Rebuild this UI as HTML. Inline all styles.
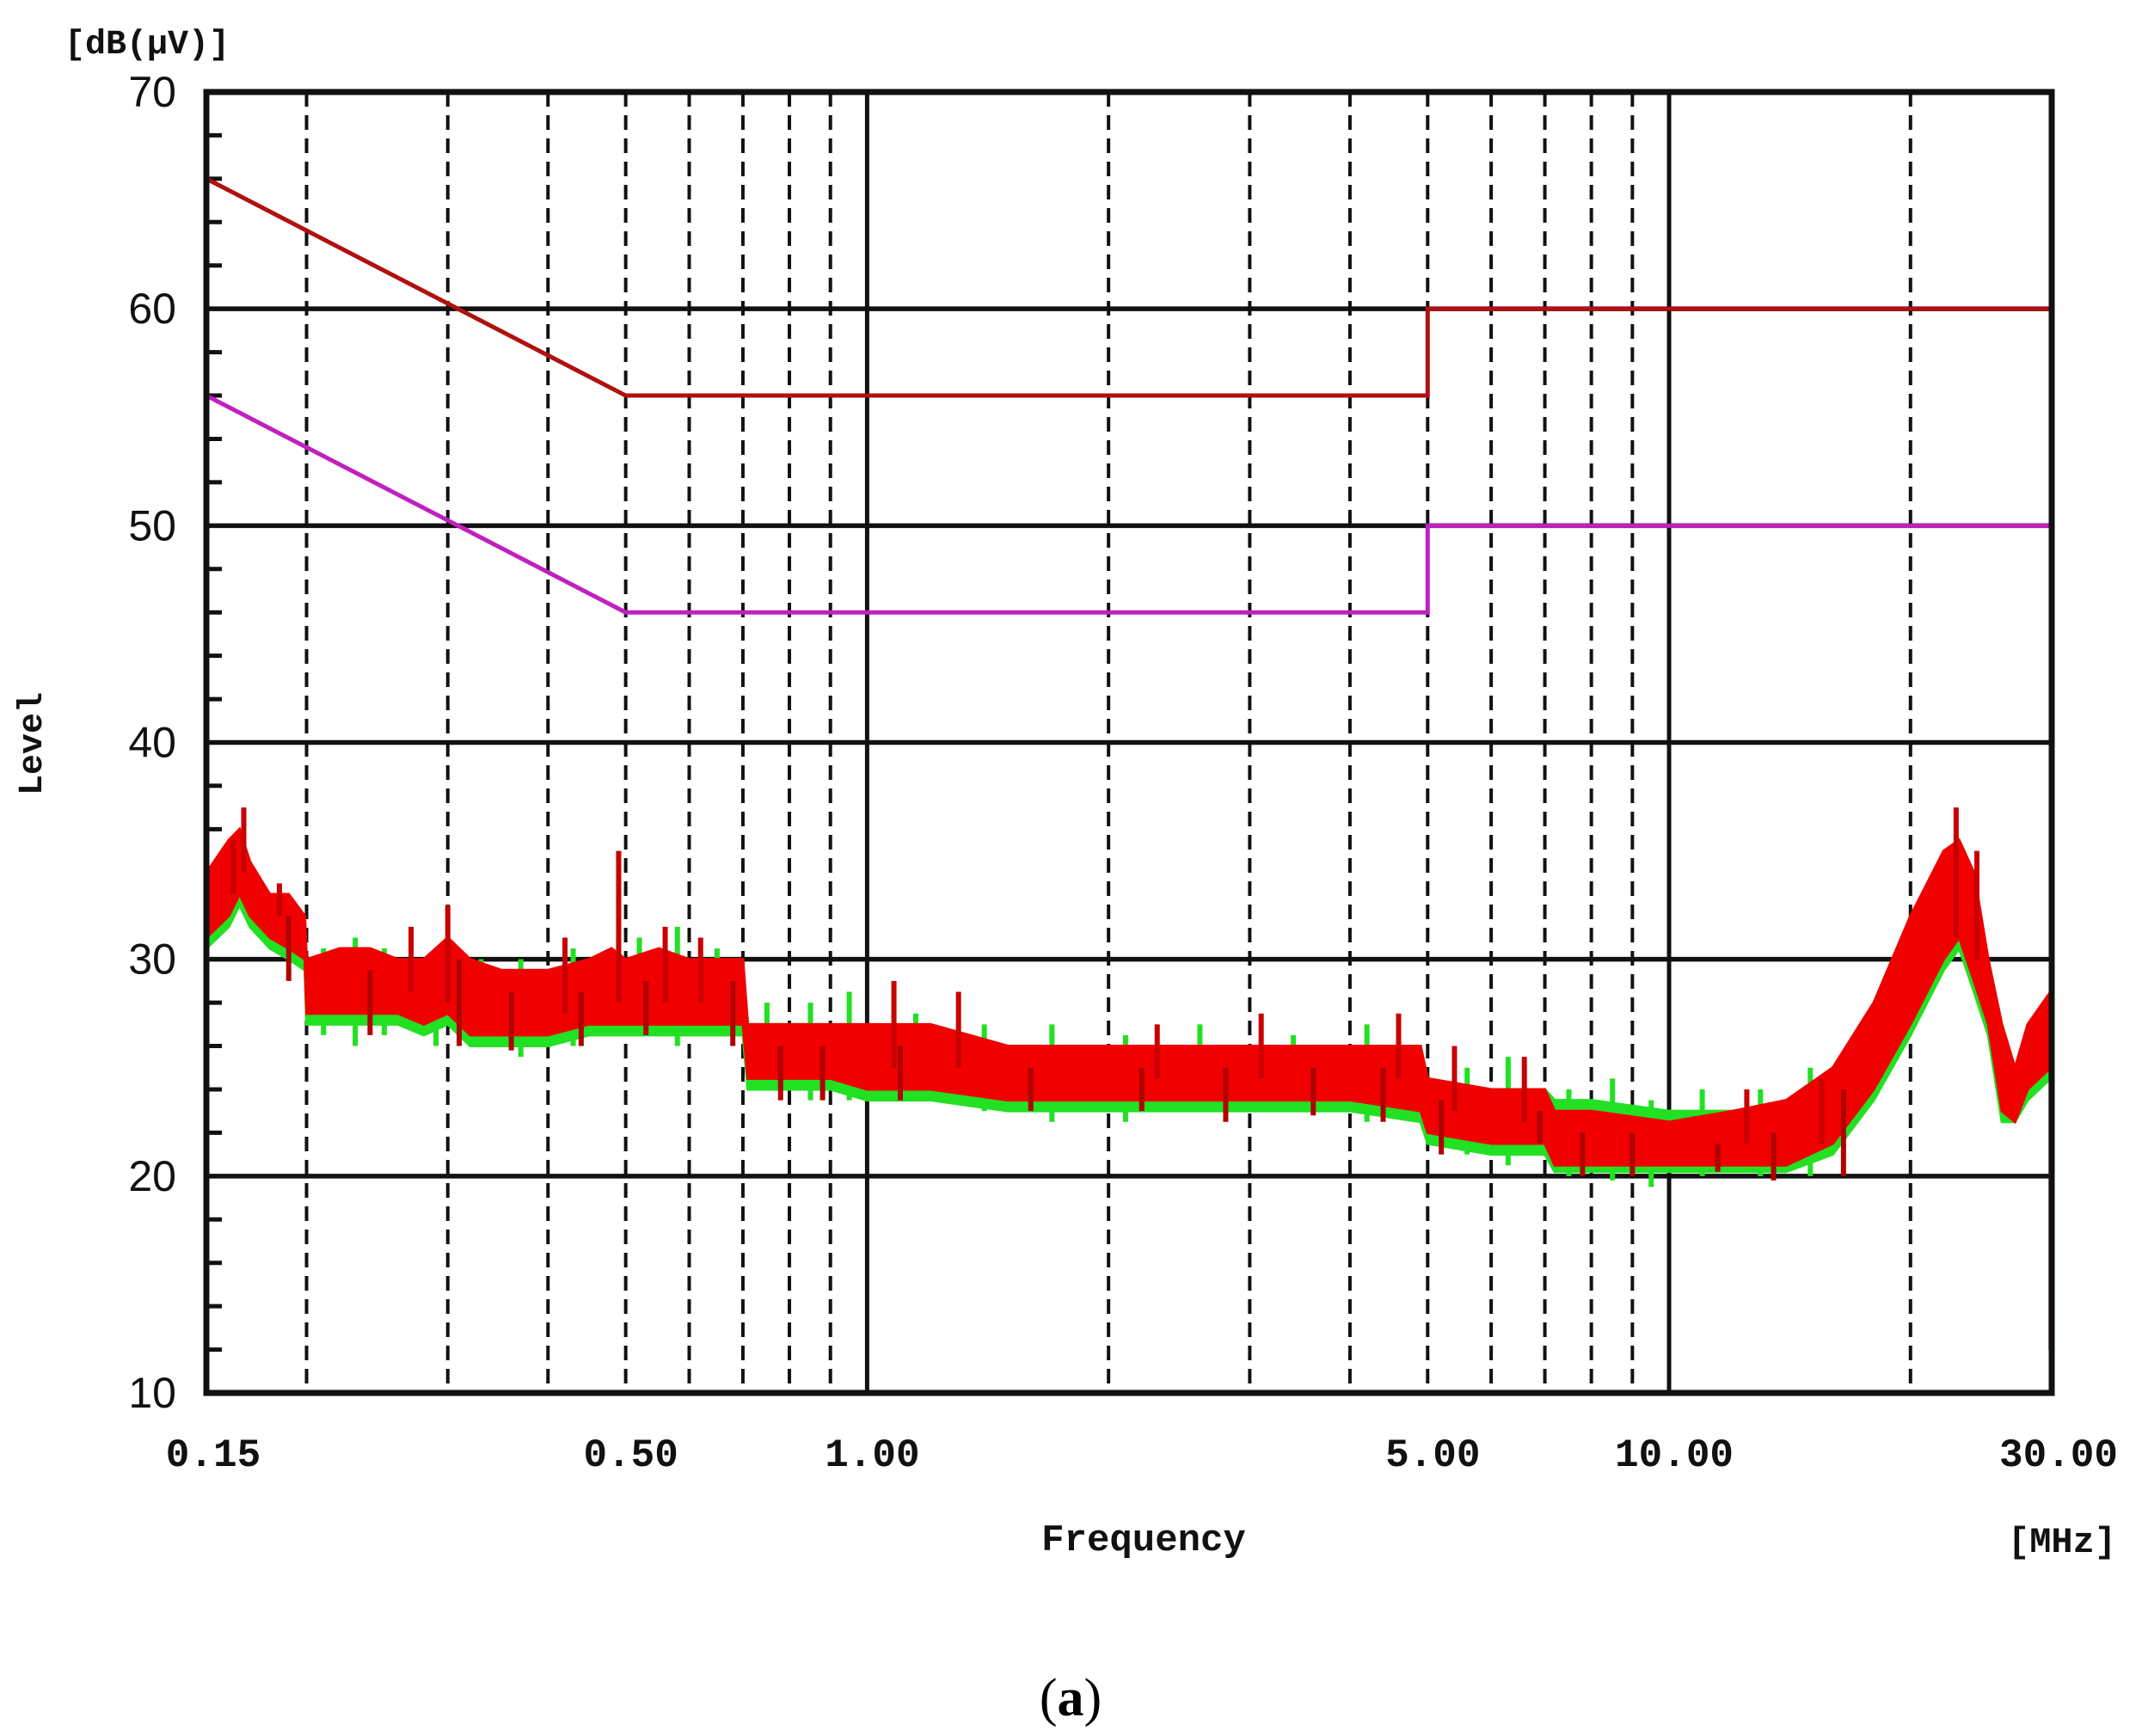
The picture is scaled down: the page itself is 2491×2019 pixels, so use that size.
<!DOCTYPE html>
<html><head><meta charset="utf-8"><style>
html,body{margin:0;padding:0;background:#fff;}
svg{display:block;}
.m{font-family:"Liberation Mono",monospace;font-weight:bold;fill:#111;}
.s{font-family:"Liberation Sans",sans-serif;fill:#111;}
</style></head><body>
<svg id="chart" width="2491" height="2019" viewBox="0 0 2491 2019" xmlns="http://www.w3.org/2000/svg">
<g id="grid"></g>
<g id="series"></g>
<g id="axes"></g>
<text class="m" x="75" y="62" font-size="40">[dB(μV)]</text>
<text class="m" x="48" y="865" font-size="40" transform="rotate(-90 48 865)" text-anchor="middle">Level</text>
<text class="m" x="1330" y="1803" font-size="44" text-anchor="middle">Frequency</text>
<text class="m" x="2398" y="1805" font-size="42" text-anchor="middle">[MHz]</text>
<text x="1245" y="1995" font-size="62" text-anchor="middle" font-family="Liberation Serif,serif" fill="#000">(<tspan font-weight="bold">a</tspan>)</text>
</svg>
<script>
const yTicks=[10,20,30,40,50,60,70];
const xTickVals=[0.15,0.5,1,5,10,30];
const xTickLabels=["0.15","0.50","1.00","5.00","10.00","30.00"];
const dashedX=[0.2,0.3,0.4,0.5,0.6,0.7,0.8,0.9,2,3,4,5,6,7,8,9,20];
const solidX=[1,10];
const qpFreq=[0.15,0.5,0.5,5,5,30];
const qpVal=[66,56,56,56,60,60];
const avFreq=[0.15,0.5,0.5,5,5,30];
const avVal=[56,46,46,46,50,50];
const bandFreq=[0.15,0.16,0.165,0.17,0.18,0.19,0.199,0.2,0.22,0.24,0.26,0.28,0.3,0.32,0.35,0.4,0.45,0.48,0.5,0.55,0.6,0.7,0.71,0.8,0.9,1.0,1.2,1.5,2,3,4,4.9,5.0,6,7,7.2,8,10,12,14,16,18,20,22,23,24,25,26,27,28,29.9];
const redHi=[34,35.5,36,34.5,33,33,32,30,30.5,30.5,30,30,31,30,29.5,29.5,30,30.5,30,30.5,30,30,27,27,27,27,27,26,26,26,26,26,24.5,24,24,23,23,22.5,23,23.5,25,28,32,35,35.5,34,30,27,25,27,28.5];
const redLo=[31,32,33,32,31,30.5,30,27.5,27.5,27.5,27.5,27,27.5,26.5,26.5,26.5,27,27,27,27,27,27,24.5,24.5,24.5,24,24,23.5,23.5,23.5,23.5,23,22,21.5,21.5,20.5,20.5,20.5,20.5,20.5,21.5,24,27,30,31,29,27,23,22.5,24,25];
const greenHi=[33.5,34,34.5,33.5,32.5,32,31.5,29.5,30,30,29.5,29.5,30,29.5,29,29,29.5,30,29.5,30,29.5,29.5,27,27,27,26.5,26.5,26,26,26,26,25.5,24.5,24,24,23.5,23.5,23,23,23.5,25,28,32,34,35,33,30,27,25,26.5,28];
const greenLo=[30.5,31.5,32.5,31.5,30.5,30,29.5,27,27,27,27,26.5,27,26,26,26,26.5,26.5,26.5,26.5,26.5,26.5,24,24,24,23.5,23.5,23,23,23,23,22.5,21.5,21,21,20.2,20.2,20.2,20.2,20.2,21,23.5,26.5,29.5,30.5,28.5,26.5,22.5,22.5,23.5,24.5];
const spikeFreq=[0.162,0.167,0.185,0.27,0.3,0.42,0.49,0.56,0.62,1.08,1.3,2.3,3.1,4.6,5.4,6.6,12.5,15.5,22.8,24.2];
const spikeVal=[35.5,37,33.5,31.5,32.5,31,35,31.5,31,29,28.5,27,27.5,27.5,26,25.5,24,24.5,37,35];
const greenSpikeFreq=[0.21,0.23,0.25,0.29,0.33,0.37,0.43,0.52,0.58,0.65,0.75,0.85,0.95,1.15,1.4,1.7,2.1,2.6,3.4,4.2,5.6,6.3,7.5,8.5,9.5,11,13,15];
const greenSpikeTop=[30.5,31,30.5,30.5,30,30,30.5,31,31.5,30.5,28,28,28.5,27.5,27,27,26.5,27,26.5,27,25,25.5,24,24.5,23.5,24,24,25];
const greenSpikeBot=[26.5,26,26.5,26,26,25.5,26,26.5,26,26.5,24,23.5,23.5,23.5,23,22.5,22.5,23,23,22.5,21,20.5,20,19.8,19.5,20,20,20];
const redDipFreq=[0.19,0.24,0.31,0.36,0.44,0.53,0.68,0.78,0.88,1.1,1.6,2.2,2.8,3.6,4.4,5.2,6.9,7.8,9,11.5,13.5,16.5,29.95];
const redDipVal=[29,26.5,26,25.8,26,26.5,26,23.5,23.5,23.5,23,23,22.5,22.8,22.5,21,21.5,20,20,20.2,19.8,20,12];

const L=240,R=2386,T=107,B=1620;
const lmin=Math.log10(0.15),lmax=Math.log10(30);
const X=f=>L+(Math.log10(f)-lmin)/(lmax-lmin)*(R-L);
const Y=v=>B-(v-10)/60*(B-T);
const NS="http://www.w3.org/2000/svg";
function mk(tag,at,parent){const e=document.createElementNS(NS,tag);for(const k in at)e.setAttribute(k,at[k]);parent.appendChild(e);return e;}
const grid=document.getElementById('grid'),ser=document.getElementById('series'),ax=document.getElementById('axes');

dashedX.forEach(f=>{const l=mk('line',{x1:X(f),x2:X(f),y1:T,y2:B,stroke:'#111','stroke-width':4,'stroke-dasharray':'17 10'},grid);

});
solidX.forEach(f=>{const l=mk('line',{x1:X(f),x2:X(f),y1:T,y2:B,stroke:'#111','stroke-width':5},grid);

});
yTicks.forEach(v=>{const l=mk('line',{x1:L,x2:R,y1:Y(v),y2:Y(v),stroke:'#111','stroke-width':5.5},grid);

});
for(let v=12;v<70;v+=2){if(v%10===0)continue;const l=mk('line',{x1:L,x2:L+18,y1:Y(v),y2:Y(v),stroke:'#111','stroke-width':5},grid);

}

function band(hi,lo,color,name){
 let pts=bandFreq.map((f,i)=>X(f)+','+Y(hi[i]));
 for(let i=bandFreq.length-1;i>=0;i--)pts.push(X(bandFreq[i])+','+Y(lo[i]));
 const p=mk('polygon',{points:pts.join(' '),fill:color,stroke:color,'stroke-width':3},ser);
 
 
}
band(greenHi,greenLo,'#22e022','peak-trace-green');
greenSpikeFreq.forEach((f,i)=>{
 const l=mk('line',{x1:X(f),x2:X(f),y1:Y(greenSpikeBot[i]),y2:Y(greenSpikeTop[i]),stroke:'#22e022','stroke-width':6},ser);
 
 
});
band(redHi,redLo,'#f00000','peak-trace-red');
function bandIdx(f){let k=0;while(k<bandFreq.length-1&&bandFreq[k+1]<f)k++;return k;}
spikeFreq.forEach((f,i)=>{
 const k=bandIdx(f);
 const l=mk('line',{x1:X(f),x2:X(f),y1:Y(redLo[k]+1),y2:Y(spikeVal[i]),stroke:'#c80000','stroke-width':6},ser);
 
 
});
redDipFreq.forEach((f,i)=>{
 const k=bandIdx(f);
 const l=mk('line',{x1:X(f),x2:X(f),y1:Y(redHi[k]-1),y2:Y(redDipVal[i]),stroke:'#b00000','stroke-width':6},ser);
 
 
});

function lim(fr,vals,color,name){
 const p=mk('polyline',{points:fr.map((f,i)=>X(f)+','+Y(vals[i])).join(' '),fill:'none',stroke:color,'stroke-width':5},ser);
 
 
}
lim(qpFreq,qpVal,'#b01010','quasi-peak-limit-line');
lim(avFreq,avVal,'#c020c0','average-limit-line');

const fr=mk('rect',{x:L,y:T,width:R-L,height:B-T,fill:'none',stroke:'#111','stroke-width':7},ax);


yTicks.forEach(v=>{const t=mk('text',{x:205,y:Y(v)+17,'text-anchor':'end','font-size':50,class:'s'},ax);t.textContent=v;

});
xTickVals.forEach((f,i)=>{const t=mk('text',{x:X(f)+(i===0?8:(i===5?8:6)),y:1705,'text-anchor':'middle','font-size':46,class:'m'},ax);t.textContent=xTickLabels[i];

});
</script>
</body></html>
